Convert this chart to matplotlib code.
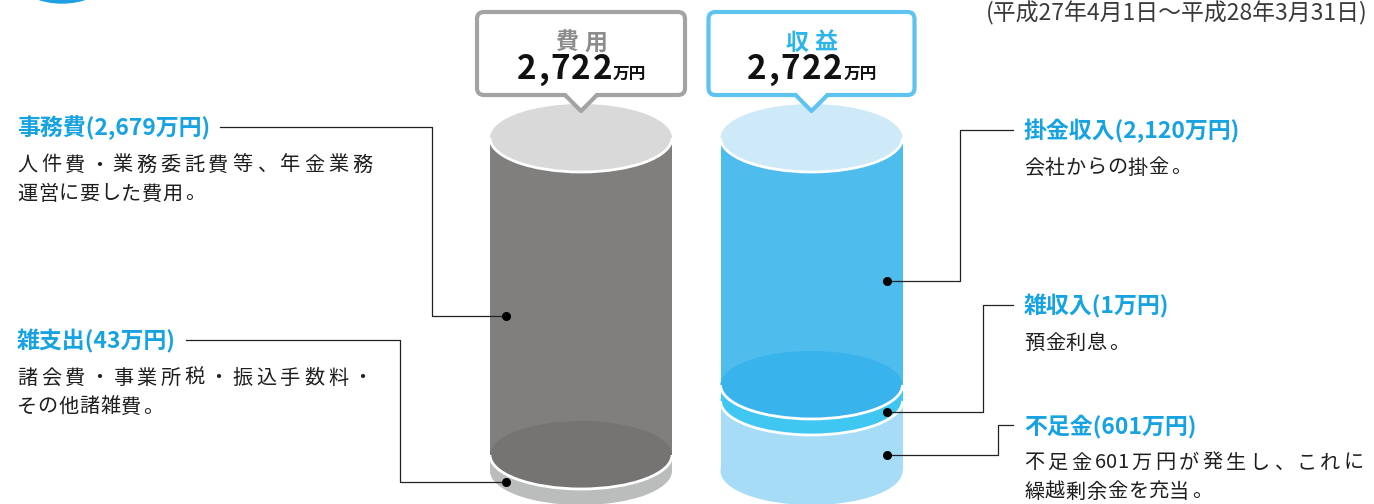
"""Pension fund income / expense overview drawn as two stacked cylinders."""

import unicodedata

import matplotlib
matplotlib.use("Agg")
import matplotlib.pyplot as plt
import numpy as np
from matplotlib.font_manager import FontProperties
from matplotlib.patches import Arc, Circle, Ellipse, FancyBboxPatch, Polygon, Rectangle

W, H, DPI = 1374, 504, 100
JP = ["Noto Sans CJK JP", "DejaVu Sans"]
plt.rcParams["font.family"] = JP

# ---- data -----------------------------------------------------------------
period = "(平成27年4月1日〜平成28年3月31日)"
unit = "万円"

expense_title = "費用"
expense_items = ["事務費", "雑支出"]
expense_values = [2679, 43]
expense_notes = [["人件費・業務委託費等、年金業務", "運営に要した費用。"],
                 ["諸会費・事業所税・振込手数料・", "その他諸雑費。"]]

income_title = "収益"
income_items = ["掛金収入", "雑収入", "不足金"]
income_values = [2120, 1, 601]
income_notes = [["会社からの掛金。"],
                ["預金利息。"],
                ["不足金601万円が発生し、これに", "繰越剰余金を充当。"]]

# ---- layout / style -------------------------------------------------------
CYL_TOP, CYL_BOT = 138, 471
RX, RY = 91, 34
MIN_SEG = 16
DOT_DX = 75
LABEL_BLUE = "#17a2e2"
TEXT = "#1e1e1e"

GRAY = dict(top="#d9d9d9", body=["#807f7e", "#bbbcbc"], inner=["#757473", None],
            box="#a3a3a3", title="#8c8c8c")
BLUE = dict(top="#cee9f8", body=["#4fbcee", "#3fc6f1", "#a6dcf6"],
            inner=["#39b3ec", None, None], box="#5ec4ef", title="#2db4ea")

fig = plt.figure(figsize=(W / DPI, H / DPI), dpi=DPI)
ax = fig.add_axes([0, 0, 1, 1])
ax.set_xlim(0, W)
ax.set_ylim(H, 0)
ax.axis("off")
RENDERER = fig.canvas.get_renderer()


def em(size):
    return size * DPI / 72


def is_wide(ch):
    return unicodedata.east_asian_width(ch) in "WF"


def advance(ch, size, weight):
    if is_wide(ch):
        return em(size)
    fp = FontProperties(family=JP, size=size, weight=weight)
    w1 = RENDERER.get_text_width_height_descent("a" + ch + "a", fp, ismath=False)[0]
    w0 = RENDERER.get_text_width_height_descent("aa", fp, ismath=False)[0]
    return w1 - w0


def tracked(x, base, s, size, color=TEXT, weight="normal", track=0.0,
            width=None, ha="left", zorder=8):
    """Draw a line char by char so the letter spacing can be set.
    Extra space only goes into gaps next to full-width characters."""
    adv = [advance(c, size, weight) for c in s]
    gaps = [is_wide(a) or is_wide(b) for a, b in zip(s[:-1], s[1:])]
    if width is not None and any(gaps):
        track = (width - sum(adv)) / sum(gaps)
    total = sum(adv) + track * sum(gaps)
    cur = x - total / 2 if ha == "center" else x
    for k, (c, a) in enumerate(zip(s, adv)):
        if c in "、。":
            ax.text(cur + 0.1 * em(size), base, c, ha="left", va="baseline",
                    size=size, color=color, weight=weight, zorder=zorder)
        else:
            ax.text(cur + a / 2, base, c, ha="center", va="baseline",
                    size=size, color=color, weight=weight, zorder=zorder)
        cur += a + (track if k < len(gaps) and gaps[k] else 0)
    return total


def seg_heights(values, total_h):
    total = sum(values)
    small = [v / total * total_h < MIN_SEG for v in values]
    rest_h = total_h - MIN_SEG * sum(small)
    rest_v = sum(v for v, s in zip(values, small) if not s)
    return [MIN_SEG if s else v / rest_v * rest_h for v, s in zip(values, small)]


def draw_cylinder(cx, values, style):
    hs = seg_heights(values, CYL_BOT - CYL_TOP)
    bounds = CYL_TOP + np.concatenate([[0], np.cumsum(hs)])
    for i in reversed(range(len(values))):
        top, bot = bounds[i], bounds[i + 1]
        c = style["body"][i]
        ax.add_patch(Rectangle((cx - RX, top), 2 * RX, bot - top, fc=c, lw=0))
        ax.add_patch(Ellipse((cx, bot), 2 * RX, 2 * RY, fc=c, lw=0))
        if i < len(values) - 1:
            if style["inner"][i]:
                ax.add_patch(Ellipse((cx, bot), 2 * RX, 2 * RY,
                                     fc=style["inner"][i], lw=0))
            ax.add_patch(Arc((cx, bot), 2 * RX, 2 * RY, theta1=0, theta2=180,
                             color="white", lw=2))
    ax.add_patch(Ellipse((cx, CYL_TOP), 2 * RX, 2 * RY, fc=style["top"], lw=0))
    ax.add_patch(Arc((cx, CYL_TOP), 2 * RX, 2 * RY, theta1=0, theta2=180,
                     color="white", lw=2))
    off = RY * np.sqrt(1 - (DOT_DX / RX) ** 2)
    return [(bounds[i] + bounds[i + 1]) / 2 + off for i in range(len(values))]


def draw_callout(cx, half_w, title, total, style):
    y0, y1 = 12, 95
    ax.add_patch(FancyBboxPatch((cx - half_w, y0), 2 * half_w, y1 - y0,
                                boxstyle="round,pad=0,rounding_size=7",
                                fc="white", ec=style["box"], lw=3, zorder=5))
    ax.add_patch(Polygon([(cx - 16, y1 - 3), (cx + 16, y1 - 3), (cx, y1 + 15)],
                         fc="white", lw=0, zorder=6))
    ax.plot([cx - 16, cx, cx + 16], [y1, y1 + 16, y1], color=style["box"],
            lw=3, solid_joinstyle="round", solid_capstyle="round", zorder=7)
    tracked(cx, 50, title, 16.5, color=style["title"], weight="bold", track=6,
            ha="center")
    num = f"{total:,}"
    wn = sum(advance(c, 24, "bold") for c in num) + 1.5 * (len(num) - 1)
    wu = 2 * em(12)
    start = cx - (wn + wu) / 2
    for k, c in enumerate(num):
        a = advance(c, 24, "bold")
        ax.text(start + a / 2, 79, c, ha="center", va="baseline", size=24,
                weight="bold", color="#111111", zorder=8)
        start += a + 1.5
    ax.text(start - 0.5, 79, unit, ha="left", va="baseline", size=12,
            weight="bold", color="#111111", zorder=8)


def draw_item(x, y, name, value, notes, dot, elbow_x, side, just_w):
    lbl = ax.text(x, y + 8.5, f"{name}({value:,}{unit})", ha="left",
                  va="baseline", size=16.5, weight="bold", color=LABEL_BLUE)
    bb = lbl.get_window_extent(RENDERER)
    (lx0, _), (lx1, _) = ax.transData.inverted().transform([[bb.x0, 0], [bb.x1, 0]])
    start = lx1 + 10 if side == "left" else lx0 - 11
    ax.plot([start, elbow_x, elbow_x, dot[0]], [y, y, dot[1], dot[1]],
            color="#222222", lw=0.9)
    ax.plot(dot[0], dot[1], "o", color="black", ms=5.5)
    for k, line in enumerate(notes):
        base = y + 36 + 29 * k + 7.5
        if k == 0 and len(notes) > 1:
            tracked(x, base, line, 14.5, width=just_w)
        else:
            tracked(x, base, line, 14.5, track=0.6)


# ---- drawing --------------------------------------------------------------
ax.add_patch(Circle((62, -75), 78, color="#1d9fe1"))
ax.text(1368, 20, period, ha="right", va="baseline", size=16.5, color="#3a3a3a")

gx, bx = 581, 811.5
g_dots = draw_cylinder(gx, expense_values, GRAY)
b_dots = draw_cylinder(bx, income_values, BLUE)

draw_callout(gx, 104, expense_title, sum(expense_values), GRAY)
draw_callout(bx, 103, income_title, sum(income_values), BLUE)

left_y = [127, 340]
left_elbow = [432, 400]
for i, name in enumerate(expense_items):
    draw_item(17, left_y[i], name, expense_values[i], expense_notes[i],
              (gx - DOT_DX, g_dots[i]), left_elbow[i], "left", 355)

right_y = [130, 305, 425]
right_elbow = [960, 983, 998]
for i, name in enumerate(income_items):
    draw_item(1024, right_y[i], name, income_values[i], income_notes[i],
              (bx + DOT_DX, b_dots[i]), right_elbow[i], "right", 340)

fig.savefig("out.png", dpi=DPI)
